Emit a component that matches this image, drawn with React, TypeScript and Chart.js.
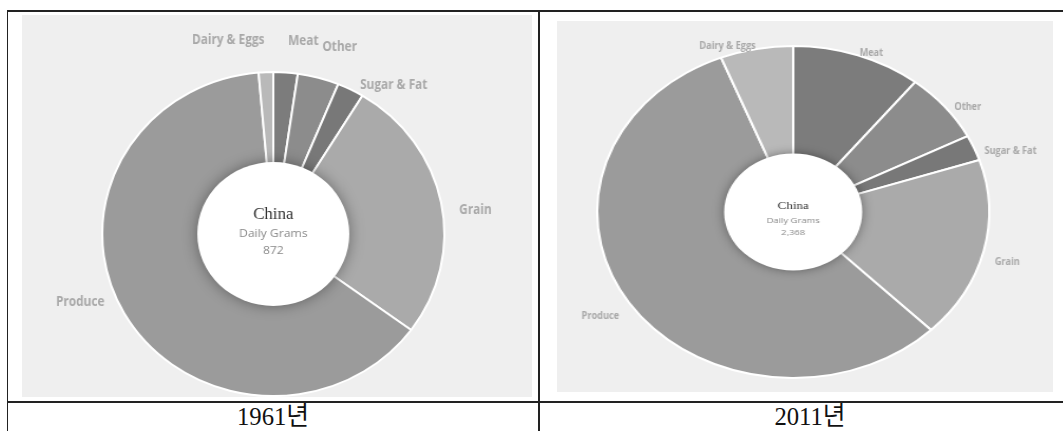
import React, { useEffect, useRef } from "react";
import { Chart, registerables } from "chart.js";

Chart.register(...registerables);

// ---- data ----
const categories = ["Meat", "Other", "Sugar & Fat", "Grain", "Produce", "Dairy & Eggs"];
const grams1961 = [20, 34, 22, 230, 554, 12];
const grams2011 = [253, 160, 59, 418, 1336, 142];
const totalLabels = ["872", "2,368"];
const yearLabels = ["1961년", "2011년"];
const countryName = "China";
const metricName = "Daily Grams";
const sliceColors = ["#7c7c7c", "#8c8c8c", "#787878", "#aaaaaa", "#9b9b9b", "#b9b9b9"];

type Cfg = {
  w: number; h: number; sx: number; sy: number;
  pad: { left: number; right: number; top: number; bottom: number };
  radius: number; cutout: string; hole: number; shadow: number;
  labelSize: number; squeeze: number; labelBase: number; labelUp: number;
  nudgeX: number[]; nudgeY: number[];
  chinaSize: number; chinaDy: number; subSize: number; subDy: number; totalDy: number;
};

const decorPlugin = {
  id: "donutDecor",
  afterDatasetsDraw(chart: any, _args: any, opts: any) {
    const ctx: CanvasRenderingContext2D = chart.ctx;
    const arcs = chart.getDatasetMeta(0).data;
    if (!arcs.length) return;
    const cx = arcs[0].x, cy = arcs[0].y, R = arcs[0].outerRadius;
    // white hole with shadow
    ctx.save();
    ctx.shadowColor = "rgba(0,0,0,0.38)";
    ctx.shadowBlur = opts.shadow;
    ctx.fillStyle = "#ffffff";
    ctx.beginPath();
    ctx.arc(cx, cy, opts.hole, 0, Math.PI * 2);
    ctx.fill();
    ctx.restore();
    // centre texts
    ctx.save();
    ctx.textAlign = "center";
    ctx.textBaseline = "middle";
    ctx.fillStyle = "#333333";
    ctx.font = `${opts.chinaSize}px 'Liberation Serif', serif`;
    ctx.fillText(opts.country, cx, cy + opts.chinaDy);
    ctx.fillStyle = "#8a8a8a";
    ctx.font = `${opts.subSize}px 'Open Sans', sans-serif`;
    ctx.fillText(opts.metric, cx, cy + opts.subDy);
    ctx.fillText(opts.total, cx, cy + opts.totalDy);
    ctx.restore();
    // slice labels
    const labels: string[] = chart.data.labels;
    arcs.forEach((arc: any, i: number) => {
      const mid = (arc.startAngle + arc.endAngle) / 2;
      const up = Math.max(0, -Math.sin(mid));
      const r = R + opts.labelBase + opts.labelUp * up;
      const x = cx + r * Math.cos(mid) + (opts.nudgeX[i] || 0);
      const y = cy + r * Math.sin(mid) + (opts.nudgeY[i] || 0);
      ctx.save();
      ctx.translate(x, y);
      ctx.scale(opts.squeeze, 1);
      ctx.font = `bold ${opts.labelSize}px 'Open Sans', sans-serif`;
      ctx.fillStyle = "#a8a8a8";
      ctx.textAlign = Math.cos(mid) >= 0 ? "left" : "right";
      ctx.textBaseline = "middle";
      ctx.fillText(labels[i], 0, 0);
      ctx.restore();
    });
  },
};

function Donut({ values, total, cfg }: { values: number[]; total: string; cfg: Cfg }) {
  const ref = useRef<HTMLCanvasElement>(null);
  useEffect(() => {
    if (!ref.current) return;
    const chart = new Chart(ref.current, {
      type: "doughnut",
      data: {
        labels: categories,
        datasets: [
          {
            data: values,
            backgroundColor: sliceColors,
            borderColor: "#ffffff",
            borderWidth: 2,
          },
        ],
      },
      options: {
        animation: false,
        responsive: false,
        radius: cfg.radius,
        cutout: cfg.cutout,
        layout: { padding: cfg.pad },
        plugins: {
          legend: { display: false },
          tooltip: { enabled: false },
          donutDecor: {
            hole: cfg.hole, shadow: cfg.shadow,
            labelSize: cfg.labelSize, squeeze: cfg.squeeze,
            labelBase: cfg.labelBase, labelUp: cfg.labelUp,
            nudgeX: cfg.nudgeX, nudgeY: cfg.nudgeY,
            chinaSize: cfg.chinaSize, chinaDy: cfg.chinaDy,
            subSize: cfg.subSize, subDy: cfg.subDy, totalDy: cfg.totalDy,
            country: countryName, metric: metricName, total,
          },
        } as any,
      } as any,
      plugins: [decorPlugin],
    });
    return () => chart.destroy();
  }, []);
  return (
    <div style={{ width: cfg.w, height: cfg.h, transform: `scale(${cfg.sx},${cfg.sy})`, transformOrigin: "0 0" }}>
      <canvas ref={ref} width={cfg.w} height={cfg.h} style={{ display: "block", width: cfg.w, height: cfg.h }} />
    </div>
  );
}

const leftCfg: Cfg = {
  w: 483, h: 382, sx: 510 / 483, sy: 1,
  pad: { left: 74, right: 81, top: 56, bottom: 0 },
  radius: 162, cutout: "42%", hole: 72, shadow: 14,
  labelSize: 14, squeeze: 0.8, labelBase: 14, labelUp: 18,
  nudgeX: [0, -4.5, -4.5, 0, -6.5, 0],
  nudgeY: [0, 0, 22, 11, -18, 0],
  chinaSize: 16, chinaDy: -19, subSize: 11.5, subDy: 0, totalDy: 17,
};

const rightCfg: Cfg = {
  w: 420, h: 371, sx: 496 / 420, sy: 1,
  pad: { left: 32, right: 52, top: 23, bottom: 12 },
  radius: 166, cutout: "34%", hole: 58.5, shadow: 10,
  labelSize: 10.5, squeeze: 0.74, labelBase: 13, labelUp: -9,
  nudgeX: [0, 2.5, 0, -3.4, 2.5, 0],
  nudgeY: [2, 5, 7, 8, 6, 1],
  chinaSize: 11, chinaDy: -6, subSize: 8, subDy: 9, totalDy: 21,
};

const line = (l: number, t: number, w: number, h: number): React.CSSProperties => ({
  position: "absolute", left: l, top: t, width: w, height: h, background: "#222",
});

export default function App() {
  return (
    <div style={{ position: "absolute", left: 0, top: 0, width: 1063, height: 431, overflow: "hidden", background: "#fff" }}>
      <div style={{ position: "absolute", left: 22, top: 15, width: 510, height: 382, background: "#efefef", overflow: "hidden" }}>
        <Donut values={grams1961} total={totalLabels[0]} cfg={leftCfg} />
      </div>
      <div style={{ position: "absolute", left: 557, top: 21, width: 496, height: 371, background: "#efefef", overflow: "hidden" }}>
        <Donut values={grams2011} total={totalLabels[1]} cfg={rightCfg} />
      </div>
      <div style={line(7, 10, 1056, 2)} />
      <div style={line(7, 10, 1, 421)} />
      <div style={line(538, 10, 2, 421)} />
      <div style={line(7, 401, 1056, 2)} />
      {yearLabels.map((y, i) => (
        <div
          key={y}
          style={{
            position: "absolute", left: i === 0 ? 173 : 710, top: 402, width: 200, height: 30,
            textAlign: "center", fontFamily: "'Liberation Serif', 'Noto Sans CJK KR', serif",
            fontSize: 26, lineHeight: "30px", color: "#111", transform: "scaleX(0.95)",
          }}
        >
          {y}
        </div>
      ))}
    </div>
  );
}
